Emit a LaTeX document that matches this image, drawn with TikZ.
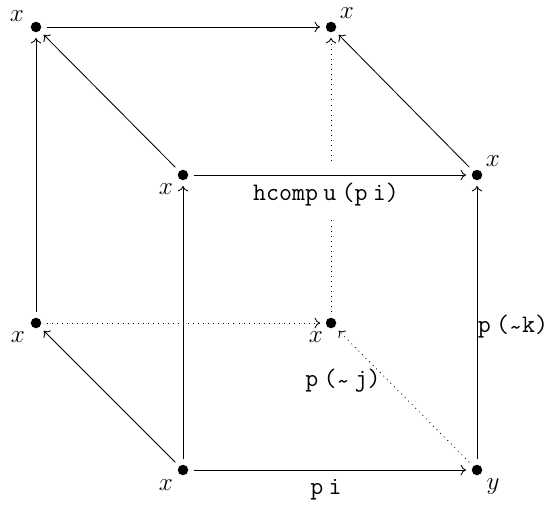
\documentclass[tikz,border=0pt]{standalone}
\usetikzlibrary{arrows.meta}
\begin{document}
\begin{tikzpicture}[x=0.476pt,y=-0.476pt,
  pt/.style={circle,fill=black,inner sep=0pt,minimum size=5pt},
  lab/.style={inner sep=0pt,font=\large},
  arr/.style={-{To[length=2.6pt,width=5pt]},shorten >=2.5pt,shorten <=2.5pt},
  dotarr/.style={arr,dotted},
  tlab/.style={inner sep=0pt,font=\ttfamily\large}]
\useasboundingbox (0,0) rectangle (552,505);
% points
\node[pt] (btl) at (36,27) {};
\node[pt] (btr) at (331,27) {};
\node[pt] (ftl) at (183,175) {};
\node[pt] (ftr) at (477,175) {};
\node[pt] (bbl) at (36,323) {};
\node[pt] (bbr) at (331,323) {};
\node[pt] (fbl) at (183,470) {};
\node[pt] (fbr) at (477,470) {};
% labels
\node[lab] (l1) at (17,16) {$x$};
\node[lab] (l2) at (347,13) {$x$};
\node[lab] (l3) at (166,189) {$x$};
\node[lab] (l4) at (493,161) {$x$};
\node[lab] (l5) at (18,337) {$x$};
\node[lab] (l6) at (316,337) {$x$};
\node[lab] (l7) at (166,485) {$x$};
\node[lab] (l8) at (493,487) {$y$};
% back edges
\draw[dotarr] (bbr) -- (btr);
\draw[dotarr] (bbl) -- (bbr);
\draw[dotarr] (fbr) -- (bbr);
\fill[white] (321,162) rectangle (341,219);
% edges
\draw[arr] (btl) -- (btr);
\draw[arr] (bbl) -- (btl);
\draw[arr] (ftl) -- (btl);
\draw[arr] (ftr) -- (btr);
\draw[arr] (ftl) -- (ftr);
\draw[arr] (fbl) -- (ftl);
\draw[arr] (fbr) -- (ftr);
\draw[arr] (fbl) -- (fbr);
\draw[arr] (fbl) -- (bbl);
% edge labels
\node[tlab] (e1) at (326,195) {hcomp\hspace{2.5pt}u\hspace{2.5pt}(p\hspace{2.5pt}i)};
\node[tlab] (e2) at (513,327) {p\hspace{2.5pt}(\raisebox{-0.25ex}{\textasciitilde}k)};
\node[tlab] (e3) at (343,381) {p\hspace{2.5pt}(\raisebox{-0.25ex}{\textasciitilde}\hspace{2.5pt}j)};
\node[tlab] (e4) at (326,490) {p\hspace{2.5pt}i};
\end{tikzpicture}
\end{document}
